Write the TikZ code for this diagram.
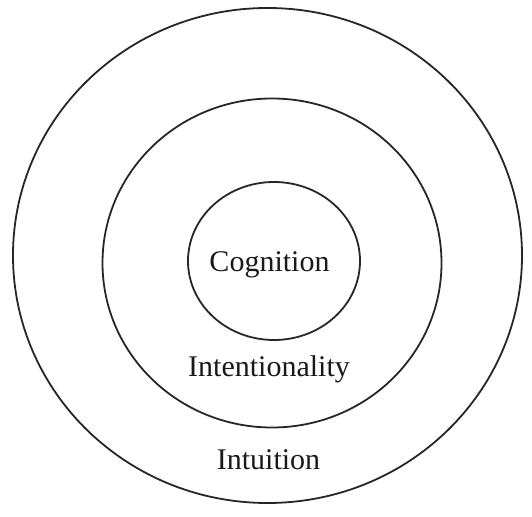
\documentclass[tikz,border=0pt]{standalone}
\usepackage{fontspec}
\setmainfont{Liberation Serif}
\begin{document}
\begin{tikzpicture}[x=1pt,y=1pt,
    ring/.style={line width=1.8pt,draw=black!85},
    label/.style={anchor=base,text=black!90,font=\fontsize{30}{36}\selectfont}]
  % three nested rings, one word in each
  \useasboundingbox (0,0) rectangle (532,516);
  \draw[ring] (267.5,260.5) ellipse (254.5 and 247.5);
  \draw[ring] (272,253) ellipse (169.5 and 164.5);
  \draw[ring] (274,255) ellipse (86 and 79);
  \node[label] (cog) at (269.5,244) {Cognition};
  \node[label] (intent) at (269,139) {Intentionality};
  \node[label] (intuit) at (268.5,46) {Intuition};
\end{tikzpicture}
\end{document}
